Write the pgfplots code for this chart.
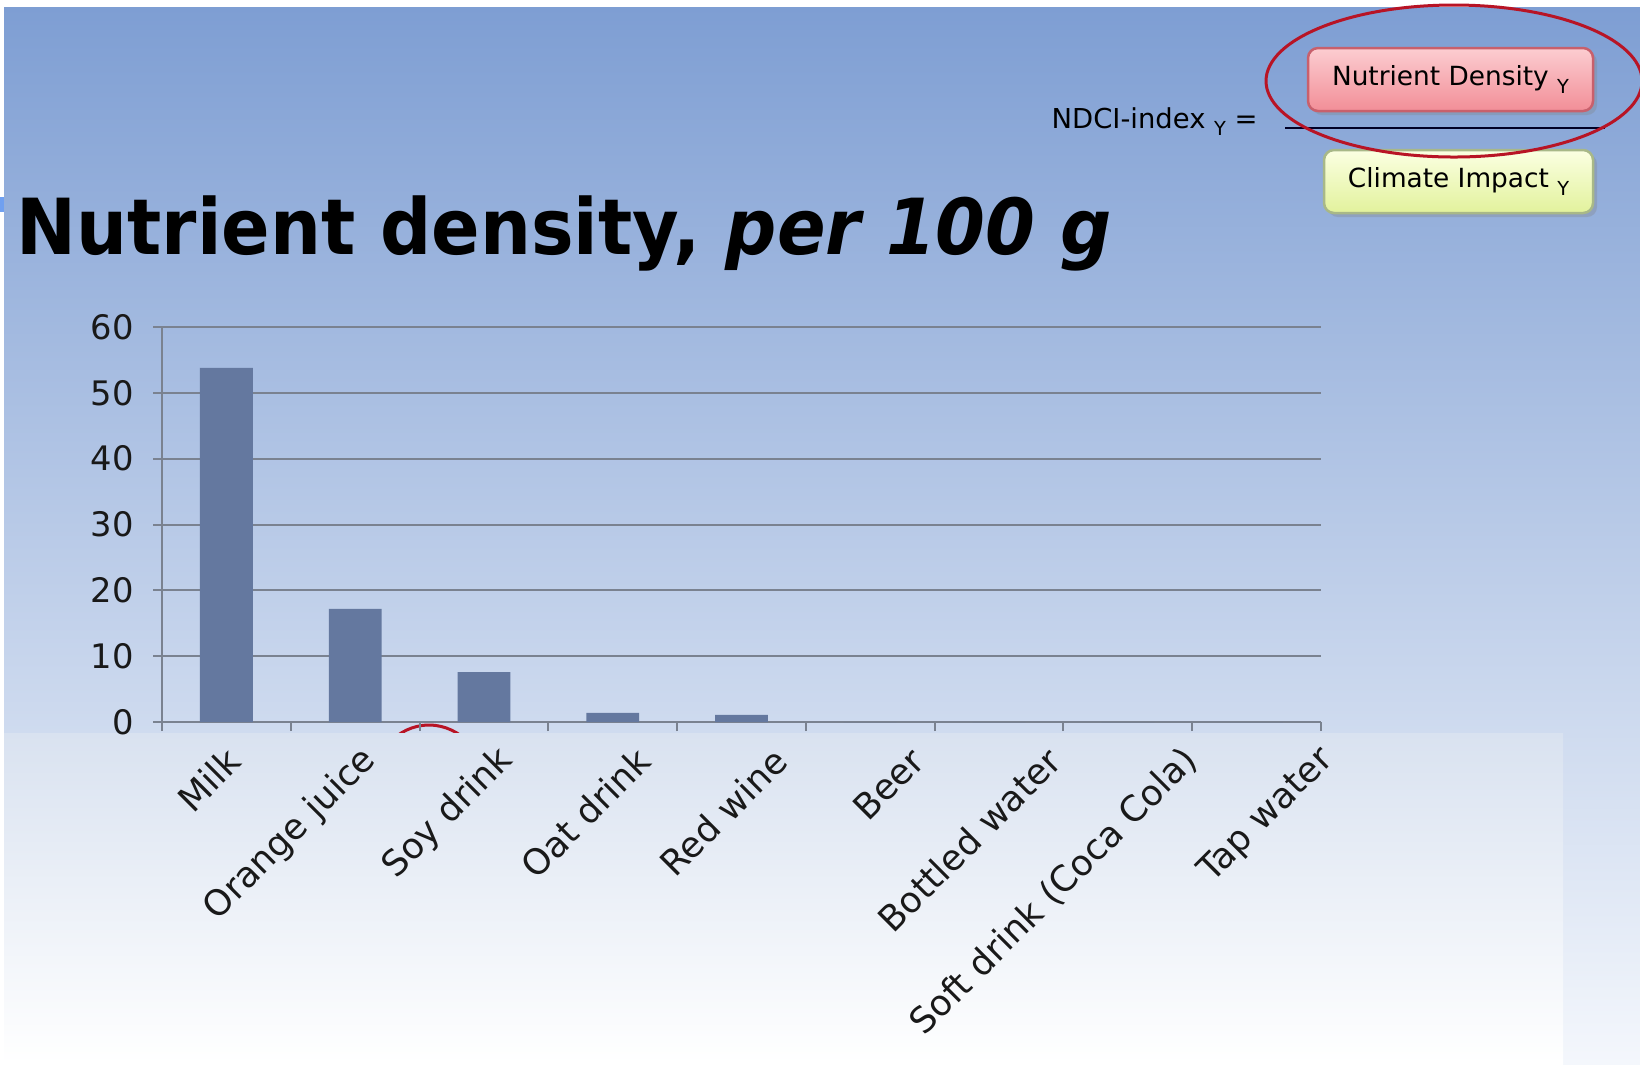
\documentclass[border=0pt]{standalone}
\usepackage{fontspec}
\setmainfont{DejaVu Sans}
\usepackage{graphicx}
\usepackage{pgfplots}
\pgfplotsset{compat=1.18}
\usetikzlibrary{shadows}

\definecolor{barblue}{HTML}{64789F}
\definecolor{gridgray}{HTML}{7A8290}
\definecolor{ellred}{HTML}{B81425}
\definecolor{bgtop}{HTML}{7E9ED3}
\definecolor{bgmid}{HTML}{B9CAE8}
\definecolor{bgbot}{HTML}{F4F7FC}
\definecolor{lowtop}{HTML}{D9E2F0}
\definecolor{pinktop}{HTML}{FCCDD1}
\definecolor{pinkbot}{HTML}{F28E97}
\definecolor{pinkedge}{HTML}{C8606C}
\definecolor{limetop}{HTML}{FBFFE2}
\definecolor{limebot}{HTML}{E2F29C}
\definecolor{limeedge}{HTML}{A8B888}
\definecolor{tabblue}{HTML}{70A0F0}

\newcommand{\subY}{\ {\fontsize{5.5}{6}\selectfont\raisebox{-0.7ex}{Y}}}

\begin{document}
\begin{tikzpicture}
\useasboundingbox (0,0) rectangle (164mm,-106.4mm);
\begin{scope}[x=0.1mm,y=-0.1mm]
  \clip (0,0) rectangle (1640,1064);
  % slide background
  \fill[white] (0,0) rectangle (1640,1064);
  \shade[top color=bgtop, middle color=bgmid, bottom color=bgbot] (4,7) rectangle (1640,1064);
  \fill[tabblue] (0,197) rectangle (4,212);
  % circled mark partly hidden by the lower panel
  \draw[ellred, line width=0.3mm] (429,790) ellipse [x radius=58, y radius=65];
  \shade[top color=lowtop, bottom color=white] (4,733) rectangle (1563,1064);
  % title
  \node[anchor=base west, inner sep=0] at (16,254)
    {\resizebox{109.5mm}{\height}{\fontsize{22}{26}\selectfont\bfseries Nutrient density, \textit{per 100 g}}};
  % index formula
  \node[anchor=base west, inner sep=0, font=\fontsize{7.8}{9}\selectfont] at (1051,128) {NDCI-index\subY\ =};
  \draw[black!85!blue, line width=0.2mm] (1285,128) -- (1605,128);
  \node[draw=pinkedge, line width=0.25mm, rounded corners=1mm, top color=pinktop, bottom color=pinkbot,
        minimum width=28.5mm, minimum height=6.3mm, font=\fontsize{7.5}{9}\selectfont,
        drop shadow={shadow xshift=0.4mm, shadow yshift=-0.4mm, opacity=0.3}]
        at (1450.5,79.5) {Nutrient Density\subY};
  \node[draw=limeedge, line width=0.25mm, rounded corners=1mm, top color=limetop, bottom color=limebot,
        minimum width=26.9mm, minimum height=6.3mm, font=\fontsize{7.5}{9}\selectfont,
        drop shadow={shadow xshift=0.4mm, shadow yshift=-0.4mm, opacity=0.3}]
        at (1458.5,181.5) {Climate Impact\subY};
  \draw[ellred, line width=0.3mm] (1454,81) ellipse [x radius=188, y radius=76];
\end{scope}

\begin{axis}[
  at={(16.2mm,-72.2mm)}, anchor=south west,
  scale only axis, width=115.9mm, height=39.5mm,
  xmin=-0.5, xmax=8.5, ymin=0, ymax=60,
  axis lines*=left,
  axis line style={draw=gridgray, line width=0.2mm},
  ytick={0,10,...,60},
  ymajorgrids,
  major grid style={draw=gridgray, line width=0.2mm},
  xtick={0,...,8},
  xticklabels={Milk,Orange juice,Soy drink,Oat drink,Red wine,Beer,Bottled water,Soft drink (Coca Cola),Tap water},
  minor xtick={-0.5,0.5,...,8.5},
  tick align=outside,
  major tick length=0.9mm, minor tick length=0.9mm,
  tick style={draw=gridgray, line width=0.2mm},
  major x tick style={draw=none},
  yticklabel style={font=\fontsize{9.6}{11}\selectfont, text=black!90, xshift=-0.7mm,
                    /pgf/number format/assume math mode=true},
  xticklabel style={font=\fontsize{10.1}{12}\selectfont, text=black!90, anchor=east,
                    xshift=1.6mm+\ticknum*0.8mm, yshift=-1.5mm, rotate=45},
  ybar, bar width=0.41,
]
\addplot[fill=barblue, draw=none] coordinates {
  (0,53.8) (1,17.2) (2,7.6) (3,1.4) (4,1.1) (5,0) (6,0) (7,0) (8,0)
};
\end{axis}
\end{tikzpicture}
\end{document}
